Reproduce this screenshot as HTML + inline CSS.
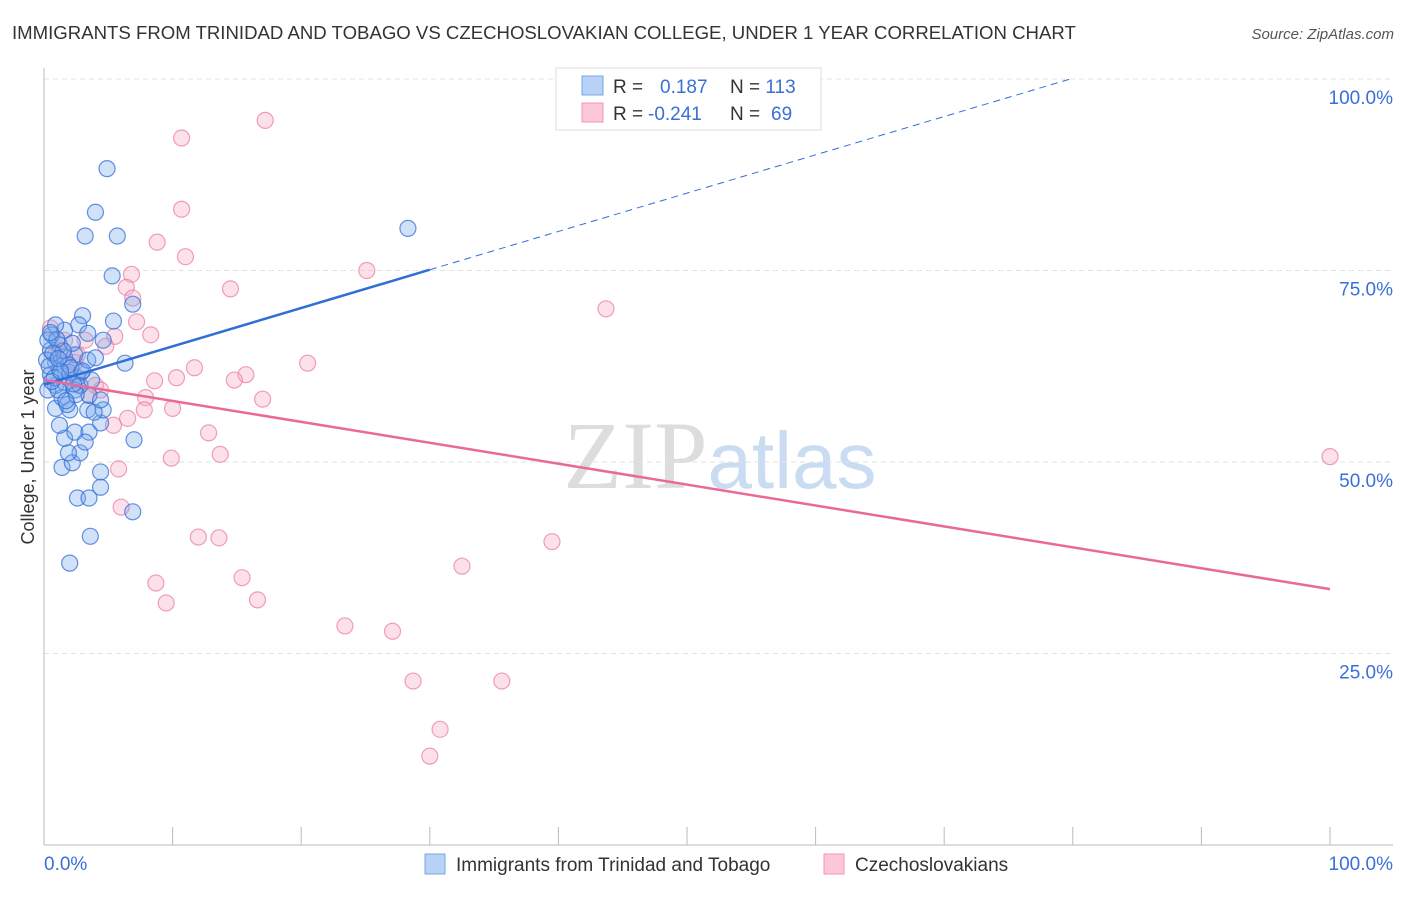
<!DOCTYPE html>
<html><head><meta charset="utf-8"><style>
body{margin:0;background:#fff;font-family:"Liberation Sans",sans-serif}
</style></head><body>
<svg id="c" width="1406" height="892" xmlns="http://www.w3.org/2000/svg" font-family="Liberation Sans, sans-serif">
<text x="12" y="39" font-size="18.6" fill="#333">IMMIGRANTS FROM TRINIDAD AND TOBAGO VS CZECHOSLOVAKIAN COLLEGE, UNDER 1 YEAR CORRELATION CHART</text>
<text x="1394" y="39" font-size="15" fill="#555" text-anchor="end" font-style="italic">Source: ZipAtlas.com</text>
<text x="720" y="488" font-size="96" text-anchor="middle" fill="#ddd" font-family="Liberation Serif, serif">ZIP<tspan fill="#c9dcf2" font-family="Liberation Sans, sans-serif" font-size="80">atlas</tspan></text>
<g id="grid"></g>
<g id="axes"></g>
<g id="pts"></g>
<g id="lines"></g>
<text transform="translate(34,457) rotate(-90)" font-size="18" fill="#333" text-anchor="middle">College, Under 1 year</text>
<g>
<rect x="556" y="68" width="265" height="62" fill="#fff" stroke="#ddd"/>
<rect x="582" y="76" width="21" height="19" fill="#b8d2f5" stroke="#7aa6e8"/>
<rect x="582" y="103" width="21" height="19" fill="#fcc8d8" stroke="#f096b4"/>
<text x="613" y="93" font-size="19" fill="#333">R = <tspan fill="#3a6fd8" x="660">0.187</tspan><tspan x="730" fill="#333">N = </tspan><tspan fill="#3a6fd8">113</tspan></text>
<text x="613" y="120" font-size="19" fill="#333">R = <tspan fill="#3a6fd8" x="648">-0.241</tspan><tspan x="730" fill="#333">N = </tspan><tspan fill="#3a6fd8" x="771">69</tspan></text>
</g>
<g>
<rect x="425" y="854" width="20" height="20" fill="#b8d2f5" stroke="#7aa6e8"/>
<text x="456" y="871" font-size="19" fill="#333">Immigrants from Trinidad and Tobago</text>
<rect x="824" y="854" width="20" height="20" fill="#fcc8d8" stroke="#f096b4"/>
<text x="855" y="871" font-size="19" fill="#333">Czechoslovakians</text>
</g>
</svg>
<script>
const blueX=[4.9,4.0,3.2,5.7,28.3,5.3,6.9,5.4,3.0,6.3,7.0,6.9,3.6,2.0,2.6,3.5,4.4,4.4,1.4,2.2,2.8,1.9,1.6,2.4,3.5,3.2,4.4,1.2,0.9,2.0,3.4,4.6,3.9,1.4,3.5,4.4,0.9,1.6,2.6,0.5,1.2,2.0,2.9,0.9,1.6,2.4,3.4,4.0,0.5,1.2,2.2,0.6,1.6,2.7,3.4,4.6,0.9,0.3,0.2,0.3,1.1,2.4,1.9,2.8,3.7,0.4,0.8,1.5,2.1,1.0,0.6,1.8,2.5,1.3,0.7,1.1,3.0,2.3,1.7,0.5];
const blueY=[88.3,82.6,79.5,79.5,80.5,74.3,70.6,68.4,69.1,62.9,52.9,43.5,40.3,36.8,45.3,45.3,46.7,48.7,49.3,49.9,51.2,51.2,53.1,53.9,53.9,52.6,55.1,54.8,57.0,56.8,56.8,56.8,56.5,58.4,58.7,58.1,60.0,60.4,61.0,61.4,62.0,61.7,61.7,63.0,63.7,64.0,63.3,63.6,64.6,65.3,65.5,66.6,67.2,67.9,66.8,65.9,67.9,65.9,63.3,59.4,59.4,59.4,62.7,60.0,60.7,62.5,61.0,64.5,62.3,66.0,60.5,57.5,58.8,61.8,64.2,63.5,61.9,60.2,58.0,66.9];
const pinkX=[10.7,17.2,10.7,8.8,11.0,6.8,6.4,14.5,25.1,6.9,7.2,8.3,43.7,5.5,4.8,20.5,11.7,15.7,14.8,10.3,8.6,4.0,4.4,7.9,17.0,7.8,10.0,6.5,5.4,12.8,13.7,9.9,5.8,6.0,12.0,13.6,39.5,32.5,8.7,15.4,9.5,16.6,23.4,27.1,28.7,35.6,30.8,30.0,100,0.5,1.2,2.4,3.2,2.0,3.5,0.9,2.8,1.6,2.6];
const pinkY=[92.3,94.6,83.0,78.7,76.8,74.5,72.8,72.6,75.0,71.4,68.3,66.6,70.0,66.4,65.1,62.9,62.3,61.4,60.7,61.0,60.6,60.0,59.4,58.4,58.2,56.8,57.0,55.7,54.8,53.8,51.0,50.5,49.1,44.1,40.2,40.1,39.6,36.4,34.2,34.9,31.6,32.0,28.6,27.9,21.4,21.4,15.1,11.6,50.7,67.5,64.6,63.0,65.9,61.4,58.7,64.0,60.0,65.9,64.0];
const blueLine=[60.1,0.5];  // intercept, slope
const pinkLine=[60.7,-0.273];
const yTicks=[25,50,75,100];
const yTickLabels=["25.0%","50.0%","75.0%","100.0%"];
const xTicks=[0,10,20,30,40,50,60,70,80,90,100];
const X=v=>44+v*12.86, Y=v=>845-v*7.66;
const NS="http://www.w3.org/2000/svg";
function mk(p,t,a){const e=document.createElementNS(NS,t);for(const k in a)e.setAttribute(k,a[k]);document.getElementById(p).appendChild(e);return e;}
yTicks.forEach((t,i)=>{
 const l=mk('grid','line',{x1:44,x2:1393,y1:Y(t),y2:Y(t),stroke:'#e2e2e2','stroke-dasharray':'5,4'});
 
 
 const tx=mk('grid','text',{x:1393,y:Y(t)+25,'font-size':19,fill:'#3a6fd8','text-anchor':'end'});
 tx.textContent=yTickLabels[i];
 
 
});
let a=mk('axes','line',{x1:44,x2:44,y1:68,y2:845,stroke:'#bbb'});


a=mk('axes','line',{x1:44,x2:1393,y1:845,y2:845,stroke:'#bbb'});


xTicks.forEach(t=>{const k=mk('axes','line',{x1:X(t),x2:X(t),y1:827,y2:845,stroke:'#bbb'});
 
 });
let t0=mk('axes','text',{x:44,y:870,'font-size':19,fill:'#3a6fd8'});t0.textContent='0.0%';


let t1=mk('axes','text',{x:1393,y:870,'font-size':19,fill:'#3a6fd8','text-anchor':'end'});t1.textContent='100.0%';


pinkX.forEach((x,i)=>{const c=mk('pts','circle',{cx:X(x),cy:Y(pinkY[i]),r:8,fill:'rgba(248,170,196,0.35)',stroke:'rgba(232,120,160,0.7)','stroke-width':1.2});
 
 });
blueX.forEach((x,i)=>{const c=mk('pts','circle',{cx:X(x),cy:Y(blueY[i]),r:8,fill:'rgba(120,170,235,0.35)',stroke:'rgba(50,110,215,0.75)','stroke-width':1.2});
 
 });
const bf=x=>blueLine[0]+blueLine[1]*x, pf=x=>pinkLine[0]+pinkLine[1]*x;
let xe=(100-blueLine[0])/blueLine[1];
let l=mk('lines','line',{x1:X(30),y1:Y(bf(30)),x2:X(xe),y2:Y(bf(xe)),stroke:'#2f6fd6','stroke-width':1,'stroke-dasharray':'7,5'});


l=mk('lines','line',{x1:X(0),y1:Y(bf(0)),x2:X(30),y2:Y(bf(30)),stroke:'#2f6fd6','stroke-width':2.5});


l=mk('lines','line',{x1:X(0),y1:Y(pf(0)),x2:X(100),y2:Y(pf(100)),stroke:'#e8699a','stroke-width':2.5});


</script>
</body></html>
